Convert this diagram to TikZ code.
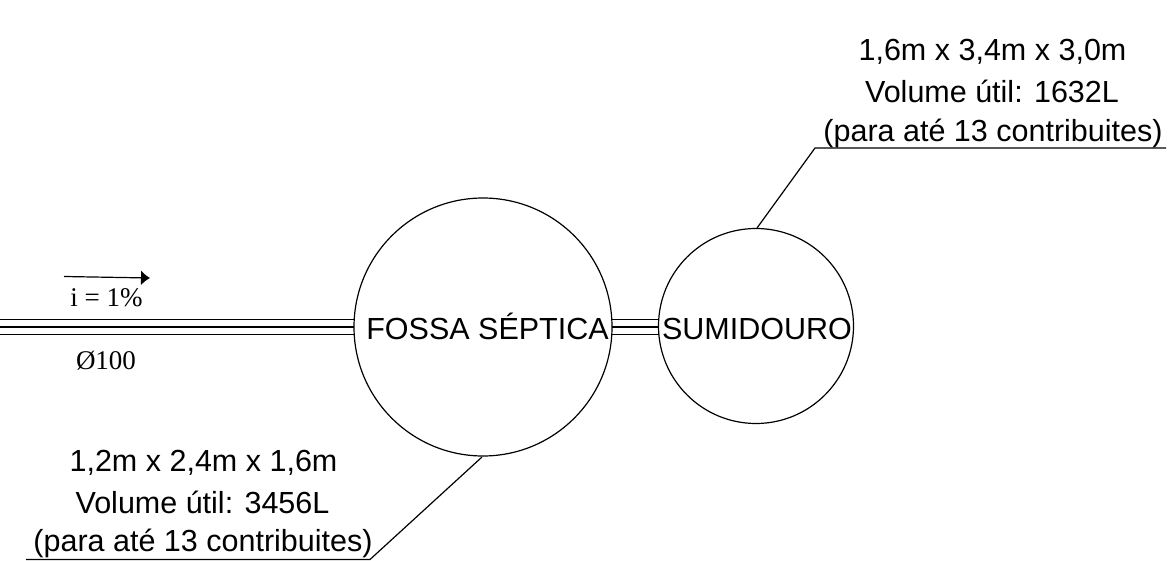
\documentclass[tikz,border=0pt]{standalone}
\usetikzlibrary{arrows.meta}
\usepackage{fontspec}
\setmainfont{Liberation Sans}
\newfontfamily\serifb{Liberation Serif}
\tikzset{lbl/.style={inner sep=0pt,anchor=base,font=\fontsize{30.5}{30.5}\selectfont},
small/.style={inner sep=0pt,anchor=base,font=\serifb\fontsize{27}{27}\selectfont},
ln/.style={line width=1.2pt,black}}
\begin{document}
\begin{tikzpicture}[x=1pt,y=-1pt]
\useasboundingbox (0,0) rectangle (1170,561);
\node[circle,draw,ln,minimum size=258,inner sep=0pt] (fs) at (483,327) {};
\node[circle,draw,ln,minimum size=195,inner sep=0pt] (su) at (756,326) {};
\node[lbl] (t1) at (487.5,340) {FOSSA SÉPTICA};
\node[lbl] (t2) at (757,340) {SUMIDOURO};
\coordinate (a1) at (0,319.5); \coordinate (a2) at (355,319.5);
\coordinate (b1) at (0,327); \coordinate (b2) at (354,327);
\coordinate (c1) at (0,334.5); \coordinate (c2) at (355,334.5);
\draw[ln] (a1)--(a2) (b1)--(b2) (c1)--(c2);
\coordinate (d1) at (611,319.5); \coordinate (d2) at (659,319.5);
\coordinate (e1) at (612,327); \coordinate (e2) at (658,327);
\coordinate (f1) at (611,334.5); \coordinate (f2) at (659,334.5);
\draw[ln] (d1)--(d2) (e1)--(e2) (f1)--(f2);
\coordinate (g1) at (64,276.5); \coordinate (g2) at (150,278);
\draw[ln,-{Latex[length=9pt,width=15pt]}] (g1)--(g2);
\node[small] (i) at (106.5,307) {i = 1\%};
\node[small] (o) at (106,370) {Ø100};
\node[lbl] (l1) at (992.5,61) {1,6m x 3,4m x 3,0m};
\node[lbl] (l2) at (992,102.5) {Volume útil: 1632L};
\node[lbl] (l3) at (993,142) {(para até 13 contribuites)};
\node[lbl] (m1) at (203.5,471.5) {1,2m x 2,4m x 1,6m};
\node[lbl] (m2) at (202.5,513) {Volume útil: 3456L};
\node[lbl] (m3) at (203,551.5) {(para até 13 contribuites)};
\coordinate (p1) at (1166,148); \coordinate (p2) at (815,148); \coordinate (p3) at (757,228);
\draw[ln] (p1)--(p2)--(p3);
\coordinate (q1) at (26,559.5); \coordinate (q2) at (370,559.5); \coordinate (q3) at (482,457);
\draw[ln] (q1)--(q2)--(q3);
\end{tikzpicture}
\end{document}
